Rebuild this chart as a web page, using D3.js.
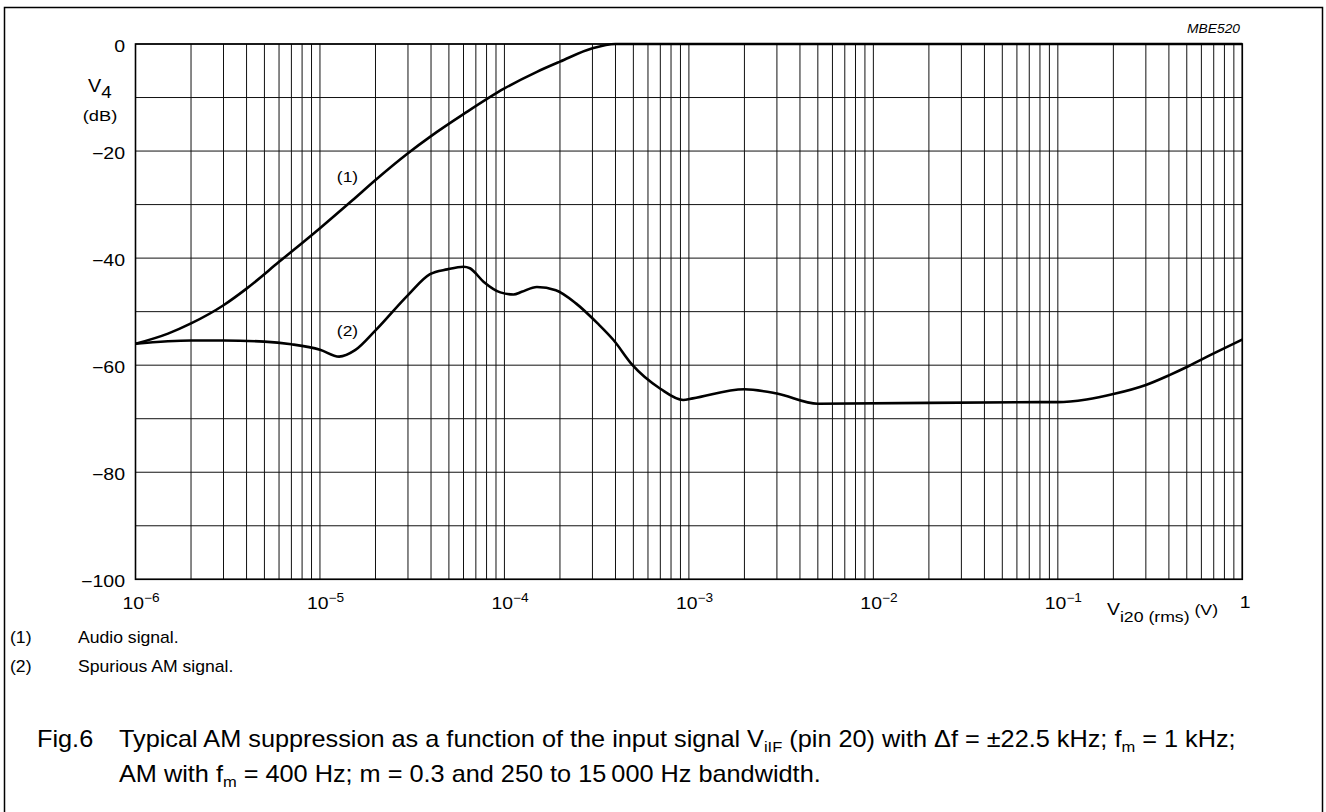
<!DOCTYPE html>
<html><head><meta charset="utf-8">
<script src="https://cdn.jsdelivr.net/npm/d3@7"></script>
<style>
html,body{margin:0;padding:0;background:#fff;}
text{font-family:"Liberation Sans",Arial,Helvetica,sans-serif;fill:#000;}
</style></head>
<body>
<svg id="chart" width="1326" height="812"></svg>
<script>
// ---- data ----
const xDecades = [1e-6, 1e-5, 1e-4, 1e-3, 1e-2, 1e-1, 1];
const xTickExponents = ["−6", "−5", "−4", "−3", "−2", "−1", null];
const yTicks = [0, -20, -40, -60, -80, -100];
const yTickLabels = ["0", "−20", "−40", "−60", "−80", "−100"];
const yGrid = [0, -10, -20, -30, -40, -50, -60, -70, -80, -90, -100];

const audioV  = [1e-6, 1.5e-6, 2e-6, 3e-6, 4e-6, 6e-6, 1e-5, 1.5e-5, 2e-5, 3e-5, 4e-5, 6e-5, 1e-4, 1.5e-4, 2e-4, 3e-4, 4e-4, 1e-3, 1e-2, 1e-1, 1];
const audioDb = [-56, -54.1, -52.2, -48.8, -45.7, -40.7, -34.4, -29.2, -25.4, -20.4, -17.2, -13.1, -8.3, -5.2, -3.3, -0.8, 0, 0, 0, 0, 0];

const spurV  = [1e-6, 2e-6, 3e-6, 5e-6, 7e-6, 1e-5, 1.27e-5, 1.55e-5, 2e-5, 3e-5, 3.95e-5, 4.9e-5, 6e-5, 6.5e-5, 7.7e-5, 9.5e-5, 1.12e-4, 1.24e-4, 1.5e-4, 1.9e-4, 2.45e-4, 3.2e-4, 3.9e-4, 4.95e-4, 7e-4, 9.3e-4, 1.05e-3, 2e-3, 3e-3, 5e-3, 8e-2, 1e-1, 0.143, 0.2, 0.3, 0.4, 0.51, 0.7, 1];
const spurDb = [-56, -55.4, -55.4, -55.6, -56.1, -57.1, -58.4, -57.2, -53.5, -46.9, -43.0, -42.1, -41.6, -41.9, -44.4, -46.4, -46.8, -46.3, -45.4, -46.0, -48.5, -52.2, -55.3, -60.0, -64.4, -66.5, -66.2, -64.5, -65.3, -67.2, -66.9, -66.9, -66.4, -65.4, -63.7, -61.9, -60.2, -57.8, -55.2];

const curveLabels = [{t:"(1)", v:1.41e-5, db:-25.8}, {t:"(2)", v:1.41e-5, db:-54.6}];
const noteIds = ["(1)", "(2)"];
const noteTexts = ["Audio signal.", "Spurious AM signal."];

// ---- layout ----
const svg = d3.select("#chart");
const L = 135.5, R = 1242.3, T = 44, B = 579.3;
const x = d3.scaleLog().domain([1e-6, 1]).range([L, R]);
const y = d3.scaleLinear().domain([-100, 0]).range([B, T]);

// horizontally stretched text helper
function st(x0, y0, size, sx, anchor) {
  return svg.append("g").attr("transform", `translate(${x0},${y0}) scale(${sx},1)`)
    .append("text").attr("x", 0).attr("y", 0).attr("font-size", size)
    .attr("text-anchor", anchor || "start");
}

// outer frame
svg.append("rect").attr("x", 4.5).attr("y", 7.5).attr("width", 1318).attr("height", 830)
  .attr("fill", "none").attr("stroke", "#000").attr("stroke-width", 1.5);

st(1240, 33, 12, 1.15, "end").attr("font-style", "italic").text("MBE520");

// grid
const minor = [];
for (let e = -6; e < 0; e++) for (let k = 1; k <= 9; k++) minor.push(k * Math.pow(10, e));
minor.push(1);
const g = svg.append("g");
g.selectAll("line.v").data(minor).join("line").attr("class", "v")
  .attr("x1", d => x(d)).attr("x2", d => x(d)).attr("y1", T).attr("y2", B)
  .attr("stroke", "#111").attr("stroke-width", 1);
g.selectAll("line.h").data(yGrid).join("line").attr("class", "h")
  .attr("x1", L).attr("x2", R).attr("y1", d => y(d)).attr("y2", d => y(d))
  .attr("stroke", "#111").attr("stroke-width", 1);
svg.append("rect").attr("x", L).attr("y", T).attr("width", R - L).attr("height", B - T)
  .attr("fill", "none").attr("stroke", "#000").attr("stroke-width", 1.6);

// y tick labels
yTicks.forEach((d, i) => st(125, y(d) + 8, 16, 1.22, "end").text(yTickLabels[i]));

// y axis title
const yt = st(88, 92, 18, 1.1, "start");
yt.append("tspan").text("V");
yt.append("tspan").attr("dy", 6).attr("font-size", 17).text("4");
st(100, 121, 15.5, 1.18, "middle").text("(dB)");

// x tick labels
xDecades.forEach((d, i) => {
  if (xTickExponents[i] === null) { st(x(d) - 2.5, 608, 17, 1.14, "start").text("1"); return; }
  const t = st(x(d) - 13, 609, 17, 1.14, "start");
  t.append("tspan").text("10");
  t.append("tspan").attr("dy", -7.5).attr("font-size", 12).text(xTickExponents[i]);
});

// x axis title
const xt = st(1107, 615, 17, 1.14, "start");
xt.append("tspan").text("V");
xt.append("tspan").attr("dy", 7).attr("font-size", 15.5).text("i20 (rms)");
xt.append("tspan").attr("dy", -7).attr("font-size", 15.5).text(" (V)");

// curves
const line = d3.line().x(d => x(d[0])).y(d => y(d[1])).curve(d3.curveMonotoneX);
svg.append("path").datum(audioV.map((v, i) => [v, audioDb[i]])).attr("d", line)
  .attr("fill", "none").attr("stroke", "#000").attr("stroke-width", 2.6);
svg.append("path").datum(spurV.map((v, i) => [v, spurDb[i]])).attr("d", line)
  .attr("fill", "none").attr("stroke", "#000").attr("stroke-width", 2.6);

curveLabels.forEach(d => st(x(d.v), y(d.db), 14.5, 1.2, "middle").text(d.t));

// notes
[643, 672].forEach((yy, i) => {
  st(10, yy, 16, 1.1, "start").text(noteIds[i]);
  st(78, yy, 16, 1.1, "start").text(noteTexts[i]);
});

// caption
st(37, 747, 23, 1.1, "start").text("Fig.6");
const c1 = st(119, 747, 23, 1.1, "start");
c1.append("tspan").text("Typical AM suppression as a function of the input signal V");
c1.append("tspan").attr("dy", 5).attr("font-size", 15).text("iIF");
c1.append("tspan").attr("dy", -5).text(" (pin 20) with \u0394f = \u00b122.5 kHz; f");
c1.append("tspan").attr("dy", 5).attr("font-size", 15).text("m");
c1.append("tspan").attr("dy", -5).text(" = 1 kHz;");
const c2 = st(119, 782, 23, 1.1, "start");
c2.append("tspan").text("AM with f");
c2.append("tspan").attr("dy", 5).attr("font-size", 15).text("m");
c2.append("tspan").attr("dy", -5).text(" = 400 Hz; m = 0.3 and 250 to 15\u2009000 Hz bandwidth.");
</script>
</body></html>
